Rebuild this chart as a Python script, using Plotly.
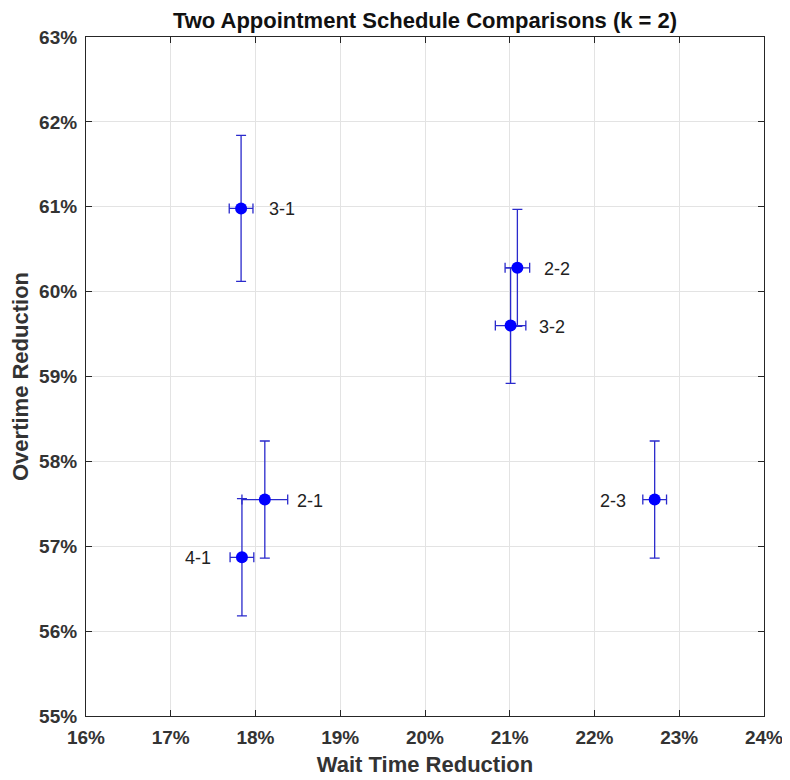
import plotly.graph_objects as go

labels = ["3-1", "2-1", "4-1", "2-2", "3-2", "2-3"]
wait_reduction = [17.83, 18.11, 17.84, 21.09, 21.01, 22.71]
wait_err = [0.14, 0.27, 0.14, 0.145, 0.18, 0.14]
overtime_reduction = [60.98, 57.55, 56.87, 60.28, 59.60, 57.55]
overtime_err = [0.86, 0.69, 0.69, 0.69, 0.68, 0.69]
label_side = ["right", "right", "left", "right", "right", "left"]
label_shift = [26, 30, -29, 25, 26, -27]

x_ticks = list(range(16, 25))
y_ticks = list(range(55, 64))
x_ticktext = [f"{v}%" for v in x_ticks]
y_ticktext = [f"{v}%" for v in y_ticks]

FONT = "Liberation Sans, Arial, sans-serif"

fig = go.Figure()
fig.add_trace(go.Scatter(
    x=wait_reduction, y=overtime_reduction, mode="markers",
    marker=dict(color="#0000ff", size=12),
    error_x=dict(type="data", array=wait_err, color="#2a2acc", thickness=1.3, width=5),
    error_y=dict(type="data", array=overtime_err, color="#2a2acc", thickness=1.3, width=5),
    showlegend=False, hoverinfo="skip",
))

for lab, x, y, side, sh in zip(labels, wait_reduction, overtime_reduction, label_side, label_shift):
    fig.add_annotation(x=x, y=y, text=lab, showarrow=False,
                       xanchor="left" if side == "right" else "right",
                       xshift=sh, yshift=-1,
                       font=dict(family=FONT, size=18, color="#222222"))

axis_common = dict(
    showgrid=True, gridcolor="#e3e3e3", gridwidth=1,
    showline=True, linecolor="#262626", linewidth=1.2, mirror="ticks",
    ticks="inside", ticklen=6, tickcolor="#262626",
    zeroline=False, automargin=False,
    tickfont=dict(family=FONT, size=19, color="#333333", weight="bold"),
)

fig.update_layout(
    width=782, height=772,
    paper_bgcolor="white", plot_bgcolor="white",
    margin=dict(l=78, r=26, t=29, b=64),
    title=dict(text="<b>Two Appointment Schedule Comparisons (k = 2)</b>",
               x=0.5, xanchor="center", xref="paper",
               y=1 - 12 / 772, yref="container", yanchor="middle", automargin=False,
               font=dict(family=FONT, size=22, color="#111111")),
    xaxis=dict(range=[16, 24], tickvals=x_ticks, ticktext=x_ticktext,
               ticklabelstandoff=4,
               title=dict(text="<b>Wait Time Reduction</b>", standoff=9,
                          font=dict(family=FONT, size=22, color="#333333")),
               **axis_common),
    yaxis=dict(range=[55, 63], tickvals=y_ticks, ticktext=y_ticktext,
               ticklabelstandoff=4,
               title=dict(text="<b>Overtime Reduction</b>", standoff=4,
                          font=dict(family=FONT, size=22, color="#333333")),
               **axis_common),
)

fig.write_html("out.html")
